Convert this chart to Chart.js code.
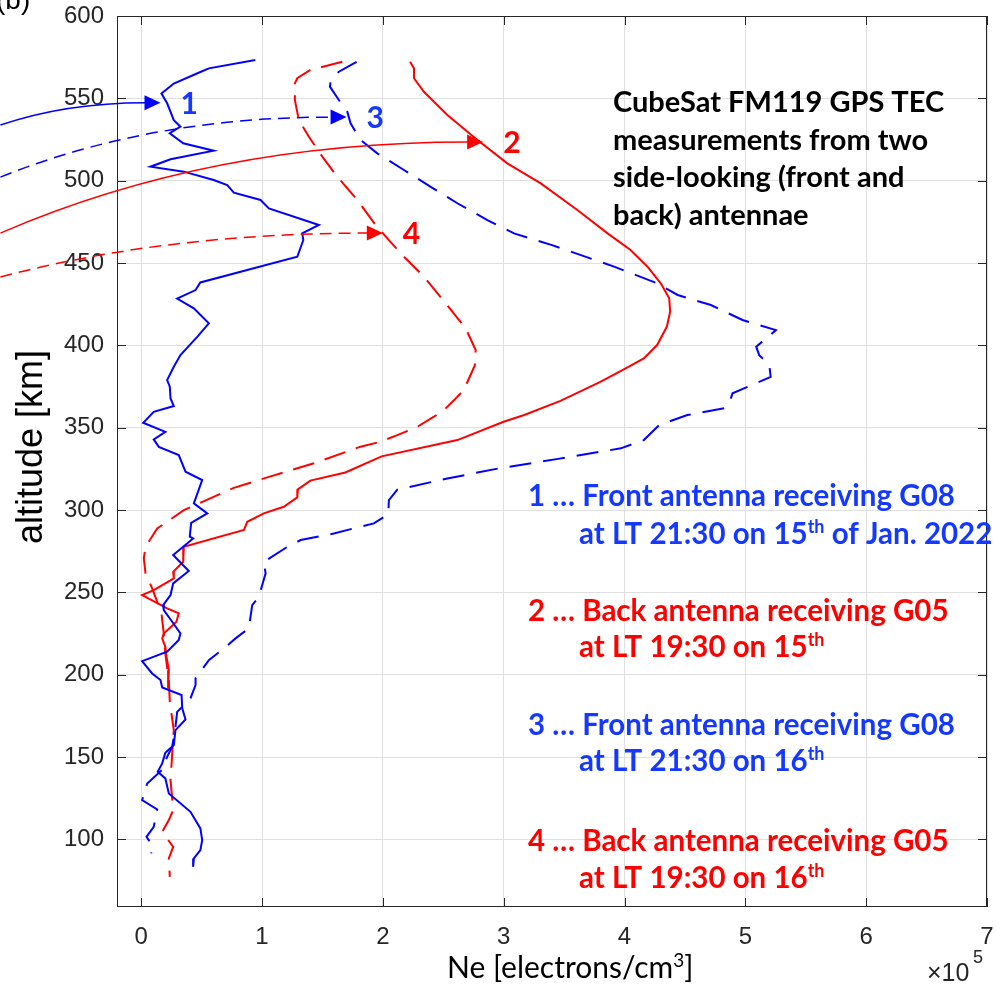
<!DOCTYPE html>
<html>
<head>
<meta charset="utf-8">
<title>CubeSat FM119 electron density profiles</title>
<script src="https://cdn.jsdelivr.net/npm/chart.js@4/dist/chart.umd.min.js"></script>
<style>
  html, body { margin: 0; padding: 0; background: #fff; }
  #wrap { width: 996px; height: 987px; }
</style>
</head>
<body>
<div id="wrap"><canvas id="profiles" width="996" height="987"></canvas></div>
<script>
// Ne in units of 1e5 electrons/cm^3, altitude in km
const neFront15 = [0.945, 0.56, 0.49, 0.27, 0.168, 0.215, 0.27, 0.325, 0.237, 0.348, 0.60, 0.243, 0.077, 0.353, 0.60, 0.712, 0.767, 0.988, 1.057, 1.471, 1.333, 1.342, 1.292, 0.49, 0.45, 0.298, 0.436, 0.56, 0.464, 0.325, 0.27, 0.215, 0.237, 0.243, 0.27, 0.104, 0.017, 0.2, 0.104, 0.146, 0.311, 0.367, 0.505, 0.436, 0.547, 0.414, 0.402, 0.43, 0.265, 0.394, 0.265, 0.243, 0.182, 0.187, 0.257, 0.325, 0.311, 0.215, 0.008, 0.091, 0.16, 0.174, 0.334, 0.34, 0.367, 0.284, 0.27, 0.2, 0.174, 0.137, 0.2, 0.229, 0.408, 0.49, 0.505, 0.49, 0.436, 0.43];
const altFront15 = [573.3, 568.2, 566, 559, 553, 547, 536.8, 532.8, 528.8, 522.7, 518.2, 513, 508.5, 505.5, 500.4, 497.4, 492.7, 488.3, 483.2, 473.1, 468, 464, 453.8, 438.2, 433.6, 428.4, 422.5, 413.4, 405.2, 394.1, 387, 378.9, 374.9, 367.8, 363.2, 359.7, 353, 347.5, 342.9, 338.4, 333.4, 323.3, 318.2, 304.1, 298, 292.3, 283.8, 282.8, 272.7, 263, 255.5, 248.4, 242.3, 239.3, 232.2, 225.1, 221.1, 214, 208.3, 200.8, 196.8, 192.3, 187.7, 179.6, 172.9, 166.4, 157.3, 152.6, 146.2, 141.1, 137.1, 127.9, 116.8, 106.7, 99.6, 93.5, 88.5, 83.4];

const neBack15 = [2.225, 2.258, 2.258, 2.34, 2.534, 2.783, 3.03, 3.307, 3.61, 3.86, 4.05, 4.19, 4.30, 4.37, 4.378, 4.35, 4.27, 4.16, 4.025, 3.80, 3.47, 3.17, 3.0, 2.617, 1.99, 1.69, 1.40, 1.297, 1.292, 1.18, 1.015, 0.878, 0.85, 0.353, 0.348, 0.265, 0.27, 0.104, 0.008, 0.215, 0.311, 0.292, 0.187, 0.174, 0.2, 0.21, 0.229, 0.223];
const altBack15 = [572.2, 568.2, 562.2, 554, 539.9, 524.7, 510.5, 498.4, 482.2, 468, 457.9, 447.8, 437.7, 428.6, 420.4, 411.3, 400.2, 392.1, 386.7, 377.9, 366.3, 357.7, 353.6, 342.5, 332.6, 322.8, 317.9, 312.6, 307.7, 302, 298, 292.9, 287.9, 277.7, 268.6, 262.5, 258.5, 251.4, 248.4, 240.3, 237.3, 232.2, 225.1, 222.1, 217, 210.9, 202.8, 191.7];

const neFront16 = [1.783, 1.636, 1.568, 1.562, 1.636, 1.706, 1.733, 1.816, 1.954, 2.175, 2.396, 2.617, 2.865, 3.086, 3.40, 3.914, 4.27, 4.44, 4.715, 4.977, 5.253, 5.09, 5.115, 5.198, 5.21, 5.02, 4.894, 4.866, 4.825, 4.52, 4.287, 4.16, 3.97, 3.45, 2.96, 2.534, 2.12, 2.05, 2.045, 1.926, 1.76, 1.595, 1.32, 1.21, 1.015, 1.03, 0.974, 0.919, 0.891, 0.781, 0.684, 0.56, 0.45, 0.45, 0.408, 0.298, 0.284, 0.257, 0.215, 0.17, 0.05, 0.008, 0.133, 0.104, 0.044, 0.091, 0.083];
const altFront16 = [572.2, 566.2, 560.1, 557.1, 549, 541.9, 534.8, 524.7, 516.6, 506.5, 496.3, 486.3, 476.1, 468, 460.9, 447.8, 437.7, 430.6, 424.5, 415.4, 409.3, 399.2, 394.1, 388, 380.9, 374.9, 370.9, 364.8, 361.8, 357.7, 351.6, 342.5, 337.5, 331.1, 325.3, 319.2, 312.4, 306.1, 297.5, 291.9, 288.9, 285.8, 281.8, 277.7, 268.6, 261.6, 247.4, 242.3, 228.2, 222.1, 216, 208.9, 197.8, 193.7, 185.7, 177.5, 168.4, 156.3, 150.2, 142, 134, 123.9, 118.2, 107.7, 101.6, 96.6, 91.5];

const neBack16 = [1.665, 1.40, 1.292, 1.272, 1.272, 1.305, 1.388, 1.499, 1.623, 1.789, 1.94, 2.037, 2.175, 2.34, 2.52, 2.686, 2.768, 2.762, 2.67, 2.59, 2.506, 2.423, 2.286, 2.12, 1.98, 1.816, 1.43, 1.05, 0.767, 0.353, 0.133, 0.036, 0.022, 0.036, 0.091, 0.168, 0.187, 0.2, 0.229, 0.237, 0.27, 0.257, 0.243, 0.265, 0.229, 0.174, 0.265, 0.229, 0.237];
const altBack16 = [572.2, 567.2, 562.2, 559.1, 549, 536.8, 526.7, 514.6, 502.4, 488.3, 473.1, 465, 453.8, 441.7, 425.5, 410.3, 397.2, 388, 372.9, 366.8, 360.7, 356.7, 350.6, 345.5, 341.5, 338.5, 328.4, 320, 313.5, 300, 288.8, 277.7, 270.7, 261.6, 252.5, 237.3, 225.1, 213, 196.8, 183.6, 166.4, 152.2, 136, 117.8, 111.8, 104.6, 95.5, 88.5, 77.3];

const neTicks = [0, 1, 2, 3, 4, 5, 6, 7];
const altTicks = [100, 150, 200, 250, 300, 350, 400, 450, 500, 550, 600];

const BLUE = '#0000ff';
const RED = '#ff0000';
const BLUE_TEXT = '#1438ff';
const AXIS = '#262626';
const GRID = '#dfdfdf';
const SANS = '"Liberation Sans", Arial, sans-serif';
const LABEL = 'Lato, "Open Sans", sans-serif';

// arrows pointing from the left margin at each profile: [from, to] in data units
const arrows = [
    { label: '1', color: BLUE, text: BLUE_TEXT, dash: [], from: [-1.165, 533.8], to: [0.16, 547.4] },
    { label: '3', color: BLUE, text: BLUE_TEXT, dash: [12, 7], from: [-1.165, 502.2], to: [1.70, 538.6] },
    { label: '2', color: RED, text: RED, dash: [], from: [-1.165, 468.2], to: [2.83, 523.5] },
    { label: '4', color: RED, text: RED, dash: [12, 7], from: [-1.165, 441.5], to: [2.0, 468.2] },
];

const titleLines = [
    'CubeSat FM119 GPS TEC',
    'measurements from two',
    'side-looking (front and',
    'back) antennae',
];

// legend lines: pieces are [text, superscript?]
const legendLines = [
    { color: BLUE_TEXT, x: 528, y: 506, parts: [['1 … Front antenna receiving G08']] },
    { color: BLUE_TEXT, x: 579, y: 544, parts: [['at LT 21:30 on 15'], ['th', true], [' of Jan. 2022']] },
    { color: RED, x: 528, y: 621, parts: [['2 … Back antenna receiving G05']] },
    { color: RED, x: 579, y: 657, parts: [['at LT 19:30 on 15'], ['th', true]] },
    { color: BLUE_TEXT, x: 528, y: 735, parts: [['3 … Front antenna receiving G08']] },
    { color: BLUE_TEXT, x: 579, y: 771, parts: [['at LT 21:30 on 16'], ['th', true]] },
    { color: RED, x: 528, y: 851, parts: [['4 … Back antenna receiving G05']] },
    { color: RED, x: 579, y: 888, parts: [['at LT 19:30 on 16'], ['th', true]] },
];

function profile(ne, alt, color, dash) {
    return {
        data: ne.map((x, i) => ({ x, y: alt[i] })),
        showLine: true,
        borderColor: color,
        borderWidth: 2,
        borderDash: dash,
        pointRadius: 0,
        fill: false,
    };
}

function richText(ctx, parts, x, y, size, weight) {
    let cx = x;
    for (const [text, sup] of parts) {
        const s = sup ? Math.round(size * 0.62) : size;
        ctx.font = `${weight} ${s}px ${LABEL}`;
        ctx.fillText(text, cx, sup ? y - size * 0.38 : y);
        cx += ctx.measureText(text).width;
    }
}

// keep the plot box exactly where the layout padding puts it
function noEdgePadding(scale) {
    scale.paddingTop = 0;
    scale.paddingBottom = 0;
    scale.paddingLeft = 0;
    scale.paddingRight = 0;
}

// box around the axes with inward ticks on all four sides
const frame = {
    id: 'frame',
    afterDatasetsDraw(chart) {
        const { ctx, chartArea: a, scales: { x, y } } = chart;
        ctx.save();
        ctx.strokeStyle = AXIS;
        ctx.lineWidth = 1;
        ctx.strokeRect(a.left + 0.5, a.top + 0.5, a.right - a.left - 1, a.bottom - a.top - 1);
        ctx.beginPath();
        for (const v of neTicks) {
            const px = Math.round(x.getPixelForValue(v)) + 0.5;
            ctx.moveTo(px, a.bottom); ctx.lineTo(px, a.bottom - 9);
            ctx.moveTo(px, a.top); ctx.lineTo(px, a.top + 9);
        }
        for (const v of altTicks) {
            const py = Math.round(y.getPixelForValue(v)) + 0.5;
            ctx.moveTo(a.left, py); ctx.lineTo(a.left + 9, py);
            ctx.moveTo(a.right, py); ctx.lineTo(a.right - 9, py);
        }
        ctx.stroke();
        ctx.restore();
    },
};

const notes = {
    id: 'notes',
    afterDraw(chart) {
        const { ctx, scales: { x, y } } = chart;
        ctx.save();

        // panel tag, half cut by the top edge
        ctx.fillStyle = '#000';
        ctx.font = `28px ${SANS}`;
        ctx.textBaseline = 'alphabetic';
        ctx.fillText('(b)', -4, 9);

        // axis titles
        ctx.save();
        ctx.translate(30, 447);
        ctx.rotate(-Math.PI / 2);
        ctx.textAlign = 'center';
        ctx.font = `36px ${SANS}`;
        ctx.fillText('altitude [km]', 0, 12);
        ctx.restore();

        ctx.fillStyle = '#000';
        richText(ctx, [['Ne [electrons/cm'], ['3', true], [']']], 447, 978, 30, 400);

        ctx.fillStyle = AXIS;
        ctx.font = `25px ${SANS}`;
        ctx.fillText('×10', 927, 981);
        ctx.font = `18px ${SANS}`;
        ctx.fillText('5', 973, 963);

        // arrows from the left margin to each profile
        for (const a of arrows) {
            const x0 = x.getPixelForValue(a.from[0]);
            const y0 = y.getPixelForValue(a.from[1]);
            const tx = x.getPixelForValue(a.to[0]);
            const ty = y.getPixelForValue(a.to[1]);
            const bx = tx - 15;
            ctx.strokeStyle = a.color;
            ctx.fillStyle = a.color;
            ctx.lineWidth = 1.5;
            ctx.setLineDash(a.dash);
            ctx.beginPath();
            ctx.moveTo(x0, y0);
            ctx.quadraticCurveTo(x0 + 0.45 * (bx - x0), ty, bx, ty);
            ctx.stroke();
            ctx.setLineDash([]);
            ctx.beginPath();
            ctx.moveTo(tx, ty);
            ctx.lineTo(bx - 1, ty - 7.5);
            ctx.lineTo(bx - 1, ty + 7.5);
            ctx.closePath();
            ctx.fill();

            ctx.fillStyle = a.text;
            ctx.font = `bold 30px ${LABEL}`;
            ctx.fillText(a.label, tx + 20, ty + 11);
        }

        // description block
        ctx.fillStyle = '#000';
        ctx.font = `bold 29px ${LABEL}`;
        titleLines.forEach((line, i) => ctx.fillText(line, 613, 112 + i * 37.7));

        for (const l of legendLines) {
            ctx.fillStyle = l.color;
            richText(ctx, l.parts, l.x, l.y, 29.5, 'bold');
        }
        ctx.restore();
    },
};

new Chart(document.getElementById('profiles'), {
    type: 'scatter',
    data: {
        datasets: [
            profile(neFront15, altFront15, BLUE, []),
            profile(neBack15, altBack15, RED, []),
            profile(neFront16, altFront16, BLUE, [22, 12]),
            profile(neBack16, altBack16, RED, [22, 11]),
        ],
    },
    options: {
        responsive: false,
        animation: false,
        devicePixelRatio: 1,
        layout: { padding: { top: 16, right: 9, left: 0, bottom: 0 } },
        plugins: { legend: { display: false }, tooltip: { enabled: false } },
        elements: { line: { tension: 0 } },
        scales: {
            x: {
                type: 'linear',
                min: -0.2,
                max: 7,
                afterBuildTicks: (axis) => { axis.ticks = neTicks.map((v) => ({ value: v })); },
                afterFit: (scale) => { scale.height = 80; noEdgePadding(scale); },
                grid: { color: GRID, drawTicks: false },
                border: { display: false },
                ticks: { color: AXIS, font: { family: SANS, size: 24 }, padding: 16, maxRotation: 0 },
            },
            y: {
                type: 'linear',
                min: 59,
                max: 600,
                afterBuildTicks: (axis) => { axis.ticks = altTicks.map((v) => ({ value: v })); },
                afterFit: (scale) => { scale.width = 117; noEdgePadding(scale); },
                grid: { color: GRID, drawTicks: false },
                border: { display: false },
                ticks: { color: AXIS, font: { family: SANS, size: 24 }, padding: 13 },
            },
        },
    },
    plugins: [frame, notes],
});
</script>
</body>
</html>
